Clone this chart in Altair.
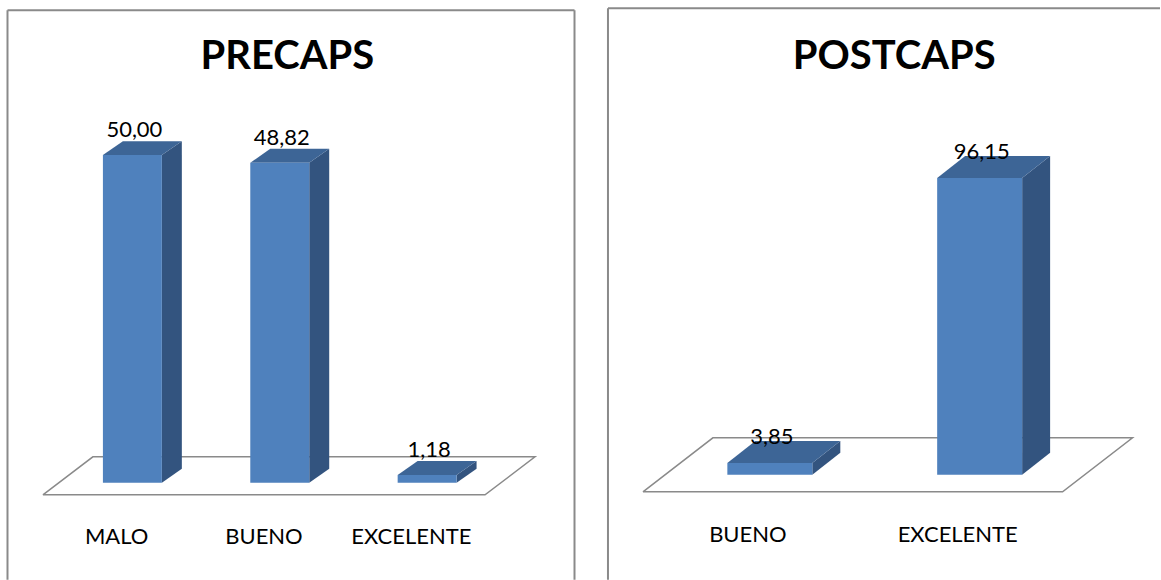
import altair as alt
import pandas as pd

# Survey results (percent) before and after the CAPS sessions
precaps_cats = ["MALO", "BUENO", "EXCELENTE"]
precaps_vals = [50.00, 48.82, 1.18]

postcaps_cats = ["BUENO", "EXCELENTE"]
postcaps_vals = [3.85, 96.15]

FONT = "Lato"
FRONT = "#4f81bd"
TOP = "#3d6596"
SIDE = "#33547f"
FRAME = "#8a8a8a"
TOTAL_H = 580


def fmt(v):
    return f"{v:.2f}".replace(".", ",")


def panel(title, cats, vals, g):
    """Pseudo-3D column panel. g holds the layout of the panel in pixels."""
    W, L = g["width"], g["left"]
    ppu, origin = g["band"], g["center0"]
    base, k = g["base"], g["pxu"]
    dxp, dyp = g["depth"]
    ddx, ddy = dxp / ppu, dyp / k
    half = g["barw"] / 2

    xs = alt.Scale(domain=[-(origin - L) / ppu, (W - (origin - L)) / ppu], nice=False, zero=False)
    ys = alt.Scale(domain=[(base - TOTAL_H) / k, base / k], nice=False, zero=False)

    # floor plane: in front of and behind the bar plane
    fin, fback = g["floor_front"], g["floor_back"]  # (dx, dy) pixel shifts
    n = len(cats)
    fx0, fx1 = -0.5, n - 0.5
    floor = pd.DataFrame({
        "x": [fx0 + fin[0] / ppu, fx1 + fin[0] / ppu, fx1 + fback[0] / ppu, fx0 + fback[0] / ppu, fx0 + fin[0] / ppu],
        "y": [fin[1] / k, fin[1] / k, fback[1] / k, fback[1] / k, fin[1] / k],
        "o": [0, 1, 2, 3, 4],
    })

    bars = pd.DataFrame({"cat": cats, "val": vals, "i": range(n)})
    bars["xl"] = bars["i"] - half
    bars["xr"] = bars["i"] + half
    bars["zero"] = 0.0
    bars["label"] = [fmt(v) for v in vals]
    bars["lx"] = bars["i"] + 2 / ppu
    bars["ly"] = bars["val"] + g["label_dy"] / k
    bars["cx"] = bars["i"] + fin[0] / ppu
    bars["cy"] = (base - g["cat_y"]) / k

    side_rows, top_rows = [], []
    for c, v, i in zip(cats, vals, range(n)):
        xl, xr = i - half, i + half
        side_rows += [
            {"cat": c, "x": xr, "y": v, "y2": 0.0},
            {"cat": c, "x": xr + ddx, "y": v + ddy, "y2": ddy},
        ]
        top_rows += [
            {"cat": c, "x": xl, "y": v, "y2": v},
            {"cat": c, "x": xl + ddx, "y": v + ddy, "y2": v},
            {"cat": c, "x": xr, "y": v + ddy, "y2": v},
            {"cat": c, "x": xr + ddx, "y": v + ddy, "y2": v + ddy},
        ]
    side = pd.DataFrame(side_rows)
    top = pd.DataFrame(top_rows)

    X = lambda f: alt.X(f, type="quantitative", scale=xs, axis=None)
    Y = lambda f: alt.Y(f, type="quantitative", scale=ys, axis=None)

    floor_line = alt.Chart(floor).mark_line(color=FRAME, strokeWidth=1.5).encode(
        x=X("x"), y=Y("y"), order="o:Q")

    side_face = alt.Chart(side).mark_area(color=SIDE, opacity=1).encode(
        x=X("x"), y=Y("y"), y2="y2", detail="cat:N")
    top_face = alt.Chart(top).mark_area(color=TOP, opacity=1).encode(
        x=X("x"), y=Y("y"), y2="y2", detail="cat:N")
    front = alt.Chart(bars).mark_rect(color=FRONT).encode(
        x=X("xl"), x2="xr", y=Y("zero"), y2="val")

    values = alt.Chart(bars).mark_text(font=FONT, fontSize=22, baseline="alphabetic", color="black").encode(
        x=X("lx"), y=Y("ly"), text="label")
    cat_labels = alt.Chart(bars).mark_text(font=FONT, fontSize=22, baseline="middle", color="black").encode(
        x=X("cx"), y=Y("cy"), text="cat")

    heading = alt.Chart(pd.DataFrame({"t": [title]})).mark_text(
        font=FONT, fontSize=g["title_size"], fontWeight="bold", baseline="alphabetic", color="black"
    ).encode(x=alt.value(g["title_x"] - L), y=alt.value(g["title_y"]), text="t")

    # panel frame (top, left and, where visible, right edges)
    fl, ft, fr = g["frame"]
    frame = [
        alt.Chart(pd.DataFrame({"a": [0]})).mark_rule(color=FRAME, strokeWidth=2).encode(
            x=alt.value(fl - L), x2=alt.value(min(fr, W + L) - L), y=alt.value(ft)),
        alt.Chart(pd.DataFrame({"a": [0]})).mark_rule(color=FRAME, strokeWidth=2).encode(
            x=alt.value(fl - L), y=alt.value(ft), y2=alt.value(TOTAL_H)),
    ]
    if fr < W + L:
        frame.append(alt.Chart(pd.DataFrame({"a": [0]})).mark_rule(color=FRAME, strokeWidth=2).encode(
            x=alt.value(fr - L), y=alt.value(ft), y2=alt.value(TOTAL_H)))

    return alt.layer(floor_line, side_face, top_face, front, values, cat_labels, heading, *frame).properties(
        width=W, height=TOTAL_H)


pre = panel("PRECAPS", precaps_cats, precaps_vals, {
    "width": 591, "left": 0, "band": 147.5, "center0": 132.5,
    "base": 483, "pxu": 6.56, "depth": (20, 14), "barw": 0.4,
    "floor_front": (-15.8, -12), "floor_back": (34.2, 26),
    "label_dy": 18, "cat_y": 537,
    "title_x": 287.5, "title_y": 69, "title_size": 40,
    "frame": (7.5, 10, 575),
})

post = panel("POSTCAPS", postcaps_cats, postcaps_vals, {
    "width": 570, "left": 591, "band": 210, "center0": 770.5,
    "base": 475, "pxu": 3.09, "depth": (28, 22), "barw": 0.405,
    "floor_front": (-22, -17), "floor_back": (48, 37),
    "label_dy": 19, "cat_y": 535,
    "title_x": 895, "title_y": 69, "title_size": 40,
    "frame": (608.5, 8, 2000),
})

chart = alt.hconcat(pre, post, spacing=0).properties(padding=0).configure_view(stroke=None)

chart.save("out.html", embed_options={"renderer": "svg", "actions": False})
